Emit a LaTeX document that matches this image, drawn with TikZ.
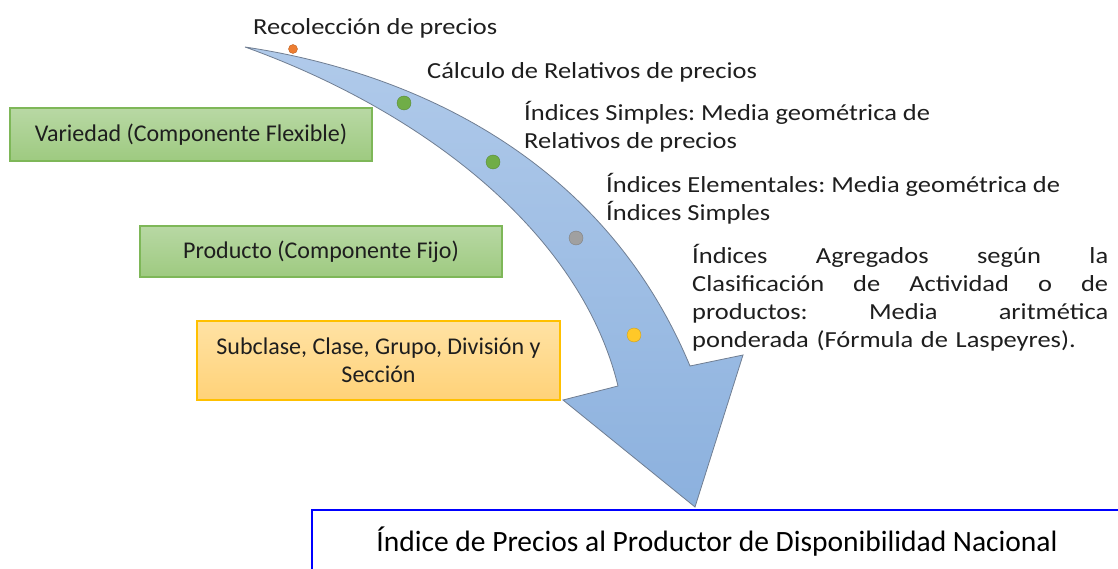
\documentclass[tikz,border=0pt]{standalone}
\usepackage{fontspec}
\setmainfont{Carlito}
\newfontfamily\widelabel[FakeStretch=1.15]{Carlito}
\usetikzlibrary{positioning}
\frenchspacing

\definecolor{boxgreentop}{RGB}{184,216,164}
\definecolor{boxgreenbot}{RGB}{158,202,128}
\definecolor{boxgreenline}{RGB}{126,183,88}
\definecolor{boxyellowtop}{RGB}{255,226,164}
\definecolor{boxyellowbot}{RGB}{255,210,120}
\definecolor{boxyellowline}{RGB}{255,192,0}
\definecolor{arrowtop}{RGB}{176,202,234}
\definecolor{arrowbot}{RGB}{140,177,222}
\definecolor{arrowline}{RGB}{112,126,146}
\definecolor{dotorange}{RGB}{237,125,49}
\definecolor{dotgreen}{RGB}{112,173,71}
\definecolor{dotgray}{RGB}{160,160,160}
\definecolor{dotyellow}{RGB}{255,200,40}
\definecolor{textdark}{RGB}{30,30,30}

\tikzset{
  labelfont/.style={font=\widelabel\fontsize{23}{28.3}\selectfont, text=textdark},
  boxfont/.style={font=\fontsize{24}{28.3}\selectfont, text=textdark},
  steplabel/.style={labelfont, anchor=base west, inner sep=0pt, align=left},
  greenbox/.style={boxfont, draw=boxgreenline, line width=1.2pt,
    top color=boxgreentop, bottom color=boxgreenbot, minimum width=362pt, align=center},
  yellowbox/.style={boxfont, draw=boxyellowline, line width=1.2pt,
    top color=boxyellowtop, bottom color=boxyellowbot, minimum width=363pt, align=center},
  stepdot/.style={circle, inner sep=0pt, minimum size=14pt, draw=#1!80!black, line width=0.4pt, fill=#1},
  ippbox/.style={draw=blue, line width=2pt, fill=white, anchor=north west,
    minimum width=810pt, minimum height=64pt, font=\fontsize{29.5}{34}\selectfont, text=black},
}

\begin{document}
\begin{tikzpicture}[x=1pt, y=-1pt]
  \clip (0,0) rectangle (1118,569);

  % curved arrow
  \draw[arrowline, line width=0.8pt, top color=arrowtop, bottom color=arrowbot]
    (245,47) .. controls (400,70) and (600,150) .. (690,366)
    -- (743,355) -- (695,507) -- (563,400) -- (618,386)
    .. controls (580,230) and (420,110) .. cycle;

  % steps along the arrow
  \node[stepdot=dotorange, minimum size=9pt] (d1) at (293,49) {};
  \node[stepdot=dotgreen] (d2) at (404,103) {};
  \node[stepdot=dotgreen] (d3) at (493,162) {};
  \node[stepdot=dotgray] (d4) at (576,238) {};
  \node[stepdot=dotyellow] (d5) at (634,335) {};

  \node[steplabel] (recol) at (253,35) {Recolección de precios};
  \node[steplabel] (relat) at (427,79) {Cálculo de Relativos de precios};
  \node[steplabel] (simp) at (524,149) {Índices Simples: Media geométrica de\\Relativos de precios};
  \node[steplabel] (elem) at (606,221) {Índices Elementales: Media geométrica de\\Índices Simples};
  \node[steplabel, text width=416pt] (agreg) at (692,263)
    {Índices\hfill Agregados\hfill según\hfill la\\
     Clasificación\hfill de\hfill Actividad\hfill o\hfill de\\
     productos:\hfill Media\hfill aritmética\\
     ponderada (Fórmula de Laspeyres).};

  % levels
  \node[greenbox, minimum height=53pt] (var) at (191,134.5) {Variedad (Componente Flexible)};
  \node[greenbox, minimum height=51pt] (prod) at (321,251.5) {Producto (Componente Fijo)};
  \node[yellowbox, minimum height=79pt] (clas) at (378.5,360.5) {Subclase, Clase, Grupo, División y\\Sección};

  % result
  \node[ippbox] (ipp) at (311,509) {Índice de Precios al Productor de Disponibilidad Nacional};
\end{tikzpicture}
\end{document}
